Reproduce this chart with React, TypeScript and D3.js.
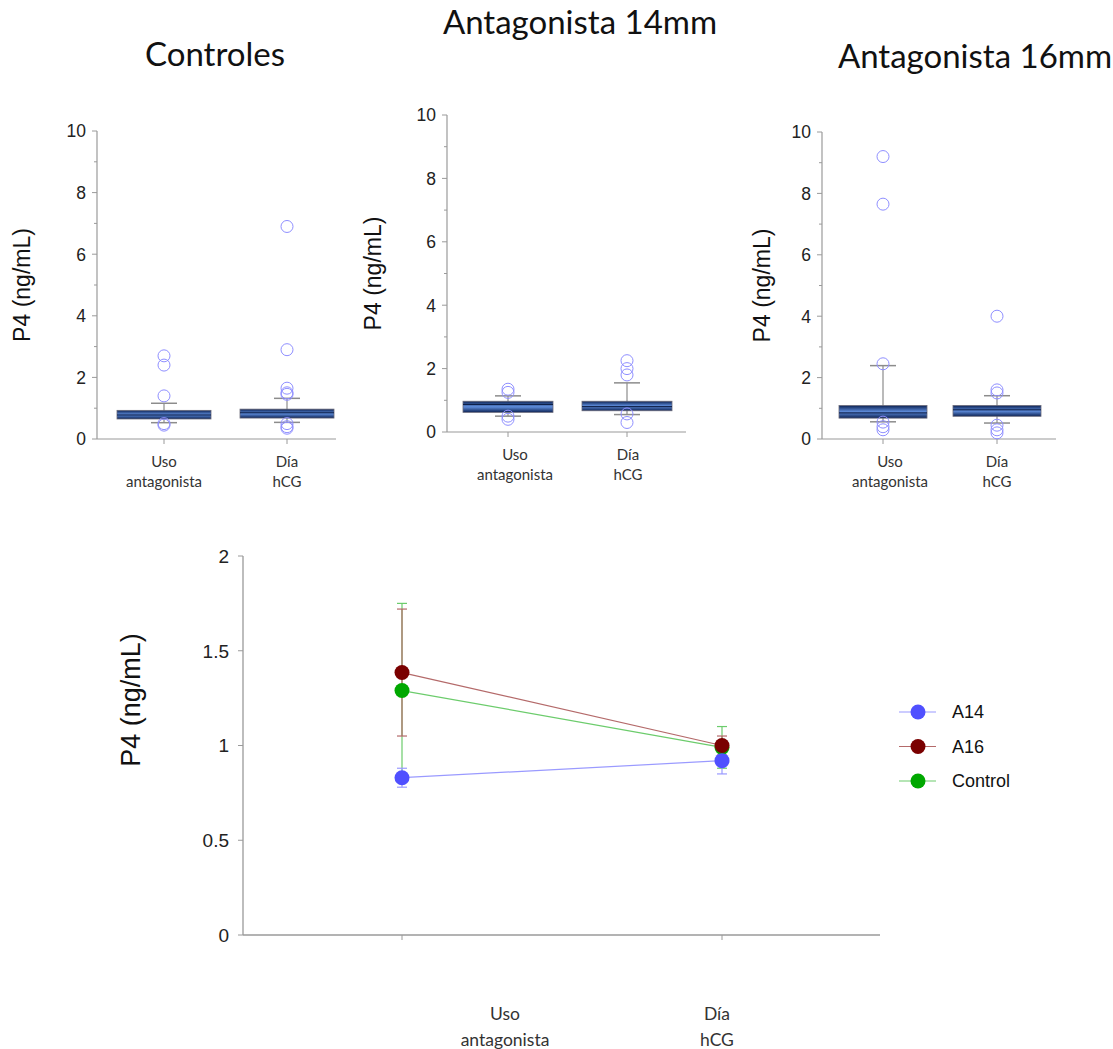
import React from 'react';
import * as d3 from 'd3';

// ---- data ----
const categories = ['Uso antagonista', 'Día hCG'];
const panelTitles = ['Controles', 'Antagonista 14mm', 'Antagonista 16mm'];

// box stats per panel: [whiskerLow, q1, median, q3, whiskerHigh]
const controlBoxes = [
  [0.53, 0.65, 0.78, 0.93, 1.16],
  [0.54, 0.68, 0.85, 0.97, 1.32],
];
const a14Boxes = [
  [0.5, 0.62, 0.87, 0.97, 1.14],
  [0.55, 0.67, 0.8, 0.97, 1.55],
];
const a16Boxes = [
  [0.56, 0.68, 0.85, 1.09, 2.39],
  [0.52, 0.74, 0.95, 1.09, 1.41],
];

const controlOutliers = [
  [2.7, 2.4, 1.4, 0.5, 0.45],
  [6.9, 2.9, 1.65, 1.5, 1.45, 0.5, 0.4, 0.35],
];
const a14Outliers = [
  [1.35, 1.25, 0.5, 0.4],
  [2.25, 2.0, 1.8, 0.57, 0.3],
];
const a16Outliers = [
  [9.2, 7.65, 2.45, 0.55, 0.4, 0.3],
  [4.0, 1.6, 1.5, 0.45, 0.3, 0.2],
];

const boxTicks = [0, 2, 4, 6, 8, 10];
const lineTicks = [0, 0.5, 1, 1.5, 2];

const seriesNames = ['A14', 'A16', 'Control'];
const a14Means = [0.83, 0.92];
const a16Means = [1.385, 1.0];
const controlMeans = [1.29, 0.99];
const a14Err = [0.05, 0.07];
const a16Err = [0.335, 0.05];
const controlErr = [0.46, 0.11];

const dotColors = ['#5050ff', '#7a0000', '#00a800'];
const lineColors = ['#9a9aff', '#b46a6a', '#6ccc6c'];

const calibri = 'Lato, "Open Sans", sans-serif';
const arial = '"Liberation Sans", Arial, sans-serif';
const axisColor = '#9a9a9a';

// ---- layout of the three box panels ----
const panels = [
  { title: panelTitles[0], tx: 215, ty: 66, axX: 97, top: 131, bottom: 439, xEnd: 336, boxes: controlBoxes, outliers: controlOutliers, centers: [164, 287], labX: [164, 287], ylabX: 30 },
  { title: panelTitles[1], tx: 580, ty: 34, axX: 447, top: 115, bottom: 432, xEnd: 686, boxes: a14Boxes, outliers: a14Outliers, centers: [508, 627], labX: [515, 628], ylabX: 381 },
  { title: panelTitles[2], tx: 975, ty: 68, axX: 822, top: 132, bottom: 439, xEnd: 1056, boxes: a16Boxes, outliers: a16Outliers, centers: [883, 997], labX: [890, 997], ylabX: 770 },
];

const BoxPanel: React.FC<{ p: typeof panels[0]; idx: number }> = ({ p, idx }) => {
  const y = d3.scaleLinear().domain([0, 10]).range([p.bottom, p.top]);
  const boxW = idx === 0 ? 94 : idx === 1 ? 90 : 88;
  const minor = d3.range(1, 10, 2);
  const gid = `boxgrad${idx}`;
  return (
    <g>
      <defs>
        <linearGradient id={gid} x1="0" y1="0" x2="0" y2="1">
          <stop offset="0%" stopColor="#0c2254" />
          <stop offset="50%" stopColor="#5f8ddc" />
          <stop offset="100%" stopColor="#0c2254" />
        </linearGradient>
      </defs>
      <text x={p.tx} y={p.ty} textAnchor="middle" fontFamily={calibri} fontSize={33} fill="#111">{p.title}</text>
      <text transform={`translate(${p.ylabX},${(p.top + p.bottom) / 2}) rotate(-90)`} textAnchor="middle" fontFamily={arial} fontSize={23} fill="#111">P4 (ng/mL)</text>
      <line x1={p.axX} x2={p.axX} y1={p.top} y2={p.bottom} stroke={axisColor} strokeWidth={1.2} />
      <line x1={p.axX} x2={p.xEnd} y1={p.bottom} y2={p.bottom} stroke={axisColor} strokeWidth={1.2} />
      {boxTicks.map(t => (
        <g key={t}>
          <line x1={p.axX - 5} x2={p.axX} y1={y(t)} y2={y(t)} stroke={axisColor} />
          <text x={p.axX - 11} y={y(t)} dy="0.36em" textAnchor="end" fontFamily={arial} fontSize={17.5} fill="#222">{t}</text>
        </g>
      ))}
      {minor.map(t => (
        <line key={t} x1={p.axX - 3} x2={p.axX} y1={y(t)} y2={y(t)} stroke={axisColor} />
      ))}
      {categories.map((c, i) => {
        const [lo, q1, med, q3, hi] = p.boxes[i];
        const cx = p.centers[i];
        const words = c.split(' ');
        return (
          <g key={c}>
            <line x1={cx} x2={cx} y1={p.bottom} y2={p.bottom + 5} stroke={axisColor} />
            <line x1={cx} x2={cx} y1={y(hi)} y2={y(lo)} stroke="#8c8c8c" strokeWidth={1.2} />
            <line x1={cx - 13} x2={cx + 13} y1={y(hi)} y2={y(hi)} stroke="#8c8c8c" strokeWidth={1.5} />
            <line x1={cx - 13} x2={cx + 13} y1={y(lo)} y2={y(lo)} stroke="#8c8c8c" strokeWidth={1.5} />
            <rect x={cx - boxW / 2} y={y(q3)} width={boxW} height={y(q1) - y(q3)} fill={`url(#${gid})`} stroke="#6a6a7a" strokeWidth={0.8} />
            <line x1={cx - boxW / 2} x2={cx + boxW / 2} y1={y(med)} y2={y(med)} stroke="#0a1a40" strokeWidth={1} />
            {p.outliers[i].map((o, k) => (
              <circle key={k} cx={cx} cy={y(o)} r={6} fill="none" stroke="#8f8fff" strokeWidth={1} />
            ))}
            {words.map((w, k) => (
              <text key={w} x={p.labX[i]} y={p.bottom + 28 + k * 20} textAnchor="middle" fontFamily={calibri} fontSize={15} fill="#333">{w}</text>
            ))}
          </g>
        );
      })}
    </g>
  );
};

const LinePanel: React.FC = () => {
  const x = d3.scalePoint<string>().domain(categories).range([402, 722]);
  const y = d3.scaleLinear().domain([0, 2]).range([935, 556]);
  const axX = 243;
  const means = [a14Means, a16Means, controlMeans];
  const errs = [a14Err, a16Err, controlErr];
  const line = d3.line<number>().x((_, i) => x(categories[i]) as number).y(d => y(d));
  const order = [2, 1, 0];
  const labelX = [505, 717];
  return (
    <g>
      <text transform={`translate(140,700) rotate(-90)`} textAnchor="middle" fontFamily={arial} fontSize={27} fill="#111">P4 (ng/mL)</text>
      <line x1={axX} x2={axX} y1={y(2)} y2={y(0)} stroke={axisColor} strokeWidth={1.3} />
      <line x1={axX} x2={880} y1={y(0)} y2={y(0)} stroke={axisColor} strokeWidth={1.3} />
      {lineTicks.map(t => (
        <g key={t}>
          <line x1={axX - 5} x2={axX} y1={y(t)} y2={y(t)} stroke={axisColor} />
          <text x={axX - 14} y={y(t)} dy="0.36em" textAnchor="end" fontFamily={arial} fontSize={19} fill="#222">{t}</text>
        </g>
      ))}
      {categories.map((c, i) => (
        <g key={c}>
          <line x1={x(c)} x2={x(c)} y1={y(0)} y2={y(0) + 5} stroke={axisColor} />
          {c.split(' ').map((w, k) => (
            <text key={w} x={labelX[i]} y={1020 + k * 26} textAnchor="middle" fontFamily={calibri} fontSize={17.5} fill="#333">{w}</text>
          ))}
        </g>
      ))}
      {order.map(s => (
        <g key={seriesNames[s]}>
          <path d={line(means[s]) as string} fill="none" stroke={lineColors[s]} strokeWidth={1.2} />
          {means[s].map((m, i) => {
            const cx = x(categories[i]) as number;
            return (
              <g key={i}>
                <line x1={cx} x2={cx} y1={y(m + errs[s][i])} y2={y(m - errs[s][i])} stroke={lineColors[s]} strokeWidth={1.2} />
                <line x1={cx - 5} x2={cx + 5} y1={y(m + errs[s][i])} y2={y(m + errs[s][i])} stroke={lineColors[s]} strokeWidth={1.2} />
                <line x1={cx - 5} x2={cx + 5} y1={y(m - errs[s][i])} y2={y(m - errs[s][i])} stroke={lineColors[s]} strokeWidth={1.2} />
              </g>
            );
          })}
        </g>
      ))}
      {order.map(s => (
        <g key={'dots' + s}>
          {means[s].map((m, i) => (
            <circle key={i} cx={x(categories[i]) as number} cy={y(m)} r={7.5} fill={dotColors[s]} />
          ))}
        </g>
      ))}
      {seriesNames.map((n, s) => {
        const ly = 712 + s * 34.5;
        return (
          <g key={n}>
            <line x1={899} x2={936} y1={ly} y2={ly} stroke={lineColors[s]} strokeWidth={1.2} />
            <circle cx={918} cy={ly} r={7.5} fill={dotColors[s]} />
            <text x={952} y={ly} dy="0.36em" fontFamily={arial} fontSize={18} fill="#111">{n}</text>
          </g>
        );
      })}
    </g>
  );
};

export default function App() {
  return (
    <svg width={1113} height={1049} style={{ position: 'absolute', left: 0, top: 0, background: '#fff' }}>
      <rect width={1113} height={1049} fill="#fff" />
      {panels.map((p, i) => <BoxPanel key={i} p={p} idx={i} />)}
      <LinePanel />
    </svg>
  );
}
